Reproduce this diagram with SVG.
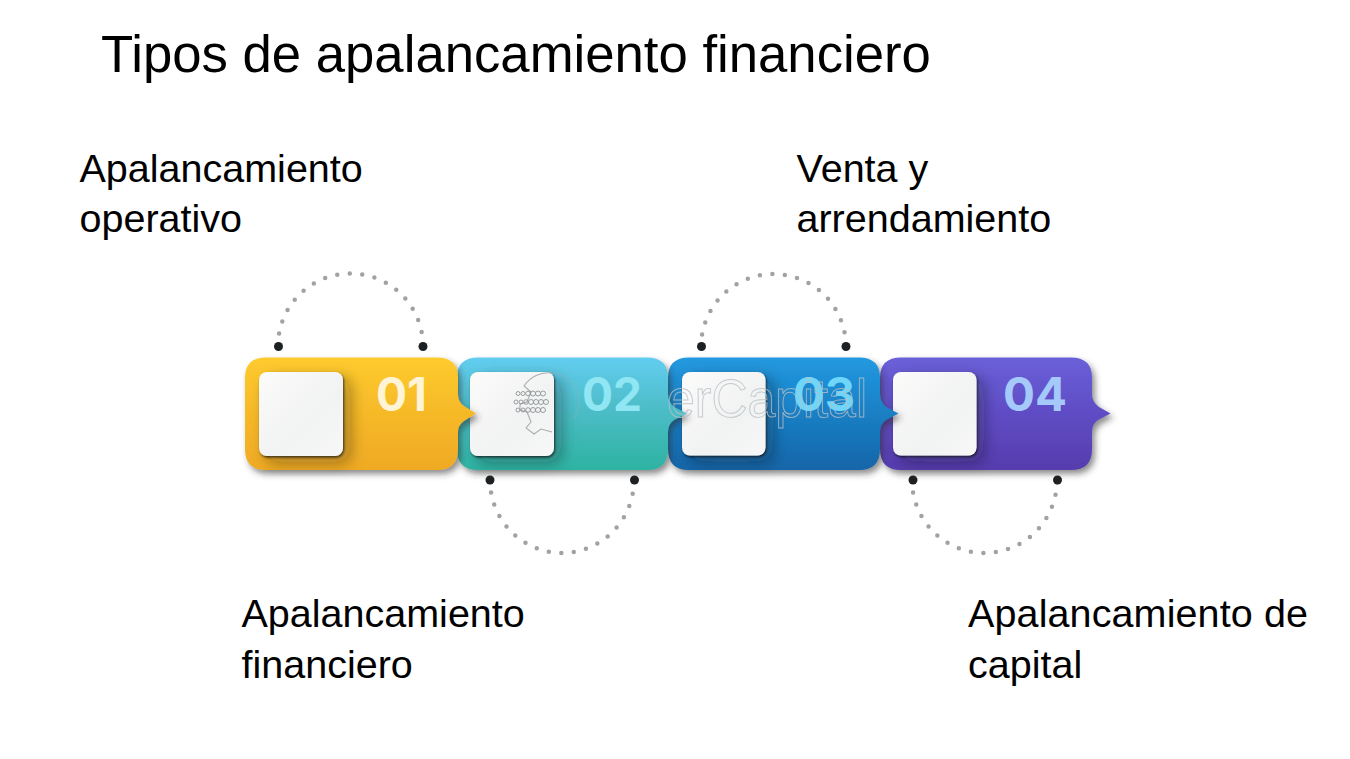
<svg xmlns="http://www.w3.org/2000/svg" width="1350" height="759" viewBox="0 0 1350 759">
<style>
text{font-family:"Liberation Sans",Arial,sans-serif;fill:#000}
.t{font-size:52.700px}
.l{font-size:39.500px}
.n{font-family:Inter,"DejaVu Sans",sans-serif;font-size:46px;font-weight:700}
.arc{fill:none;stroke:#a0a2a4;stroke-width:4.500;stroke-linecap:round;stroke-dasharray:0 12.550}
.dot{fill:#1d2123}
.sq{fill:url(#w);filter:url(#sh)}
.wm{font-size:54px;fill:none;stroke:#b9c0c5;stroke-width:1;opacity:.8}
.gear{fill:none;stroke:#a9aeb1;stroke-width:1.100}
.gd{fill:none;stroke:#8f9496;stroke-width:.9}
</style>
<defs>
<linearGradient id="g1" x1="0" y1="0" x2="0" y2="1"><stop offset="0" stop-color="#fecb2e"/><stop offset=".5" stop-color="#f6b928"/><stop offset="1" stop-color="#efaa24"/></linearGradient>
<linearGradient id="g2" x1="0" y1="0" x2="0" y2="1"><stop offset="0" stop-color="#62cdf0"/><stop offset=".45" stop-color="#4dbdc8"/><stop offset="1" stop-color="#2db3a2"/></linearGradient>
<linearGradient id="g3" x1="0" y1="0" x2="0" y2="1"><stop offset="0" stop-color="#2299e0"/><stop offset=".5" stop-color="#1a7fc4"/><stop offset="1" stop-color="#1565a8"/></linearGradient>
<linearGradient id="g4" x1="0" y1="0" x2="0" y2="1"><stop offset="0" stop-color="#6a60d8"/><stop offset=".5" stop-color="#5f4cc4"/><stop offset="1" stop-color="#563cae"/></linearGradient>
<linearGradient id="w" x1="0" y1="0" x2="1" y2="1"><stop offset="0" stop-color="#fbfbfa"/><stop offset=".6" stop-color="#f1f2f2"/><stop offset="1" stop-color="#f8f8f8"/></linearGradient>
<filter id="sh" x="-30%" y="-30%" width="180%" height="180%">
<feDropShadow dx="7" dy="6" stdDeviation="8" flood-color="#1c1c1c" flood-opacity=".22" result="a"/>
<feDropShadow in="a" dx="1" dy="1.500" stdDeviation="1.300" flood-color="#151515" flood-opacity=".75"/>
</filter>
<filter id="tsh" x="-10%" y="-10%" width="125%" height="130%"><feDropShadow dx="3" dy="4" stdDeviation="3" flood-color="#333" flood-opacity=".55"/></filter>
</defs>
<rect width="1350" height="759" fill="#fff"/>
<g id="connectors">
<path class="arc" d="M278 346A72.500 72.500 0 0 1 423 346"/>
<path class="arc" d="M490 480A72 73 0 0 0 634 480"/>
<path class="arc" d="M701 347A72.500 73 0 0 1 846 347"/>
<path class="arc" d="M912 480A72.500 73 0 0 0 1057 480"/>
<g class="dot">
<circle cx="278.500" cy="346.500" r="4.500"/><circle cx="423" cy="346.500" r="4.500"/>
<circle cx="490" cy="480" r="4.500"/><circle cx="634.500" cy="480" r="4.500"/>
<circle cx="701.500" cy="346.500" r="4.500"/><circle cx="846" cy="346.500" r="4.500"/>
<circle cx="913" cy="480" r="4.500"/><circle cx="1057.500" cy="480" r="4.500"/>
</g>
</g>
<g id="node-04">
<path fill="url(#g4)" filter="url(#tsh)" d="M901 357.500H1071Q1092 357.500 1092 378V394Q1092 402 1099 407L1110.500 413.500L1098 420Q1092 424 1092 432V449Q1092 470 1071 470H901Q880 470 880 449V378Q880 357.500 901 357.500Z"/>
<rect class="sq" x="893" y="372" width="83.500" height="83.500" rx="8"/>
<text class="n" x="1003" y="411" style="fill:#a5c9fb" textLength="64" lengthAdjust="spacingAndGlyphs">04</text>
</g>
<g id="node-03">
<path fill="url(#g3)" filter="url(#tsh)" d="M689 357.500H859Q880 357.500 880 378V394Q880 402 886 407L898.500 413.500L886 420Q880 424 880 432V449Q880 470 859 470H689Q668 470 668 449V378Q668 357.500 689 357.500Z"/>
<rect class="sq" x="682" y="372" width="83.500" height="83.500" rx="8"/>
<text class="n" x="793" y="411" style="fill:#6fd6f9" textLength="62" lengthAdjust="spacingAndGlyphs">03</text>
</g>
<g id="node-02">
<path fill="url(#g2)" filter="url(#tsh)" d="M478 357.500H647Q668 357.500 668 378V394Q668 402 674 407L687 413.500L674 420Q668 424 668 432V449Q668 470 647 470H478Q457 470 457 449V378Q457 357.500 478 357.500Z"/>
<rect class="sq" x="470" y="372" width="84" height="84" rx="8"/>
<text class="n" x="582" y="411" style="fill:#90e6f3" textLength="60" lengthAdjust="spacingAndGlyphs">02</text>
</g>
<g id="node-01">
<path fill="url(#g1)" filter="url(#tsh)" d="M266 357.500H437Q458 357.500 458 378V394Q458 402 464 406L476 413.500L464 421Q458 425 458 432V449Q458 470 437 470H266Q245 470 245 449V378Q245 357.500 266 357.500Z"/>
<rect class="sq" x="259" y="372" width="84" height="84" rx="8"/>
<text class="n" x="376" y="411" style="fill:#fff4d6" textLength="51" lengthAdjust="spacingAndGlyphs">01</text>
</g>
<g id="watermark">
<path class="gear" d="M552 373A29 29 0 0 0 524 386L531 392L527 402L520 404V410L527 412L531 422L526 428L534 434L541 429L552 432" />
<path class="gear" opacity=".35" d="M552 373A29 29 0 0 1 574 418"/>
<g class="gd">
<circle cx="518" cy="393.500" r="2"/><circle cx="523" cy="393.500" r="2"/><circle cx="528" cy="393.500" r="2.300"/><circle cx="533" cy="393.500" r="2.500"/><circle cx="538" cy="393.500" r="2.500"/><circle cx="543" cy="393.500" r="2.500"/>
<circle cx="516" cy="402" r="2"/><circle cx="521" cy="402" r="2"/><circle cx="526" cy="402" r="2.300"/><circle cx="531" cy="402" r="2.500"/><circle cx="536" cy="402" r="2.500"/><circle cx="541" cy="402" r="2.500"/><circle cx="546" cy="402" r="2.500"/>
<circle cx="518" cy="410" r="2"/><circle cx="523" cy="410" r="2"/><circle cx="528" cy="410" r="2.300"/><circle cx="533" cy="410" r="2.500"/><circle cx="538" cy="410" r="2.500"/><circle cx="543" cy="410" r="2.500"/>
</g>
<text class="wm" x="667" y="417" textLength="200" lengthAdjust="spacingAndGlyphs" style="fill:none">erCapital</text>
</g>
<g id="labels">
<text class="t" x="101" y="72">Tipos de apalancamiento financiero</text>
<text class="l" x="79.500" y="182">Apalancamiento</text>
<text class="l" x="79.500" y="232">operativo</text>
<text class="l" x="241.500" y="627">Apalancamiento</text>
<text class="l" x="241.500" y="678">financiero</text>
<text class="l" x="796.500" y="182">Venta y</text>
<text class="l" x="796.500" y="232">arrendamiento</text>
<text class="l" x="968" y="627" textLength="340">Apalancamiento de</text>
<text class="l" x="968" y="678">capital</text>
</g>
</svg>
